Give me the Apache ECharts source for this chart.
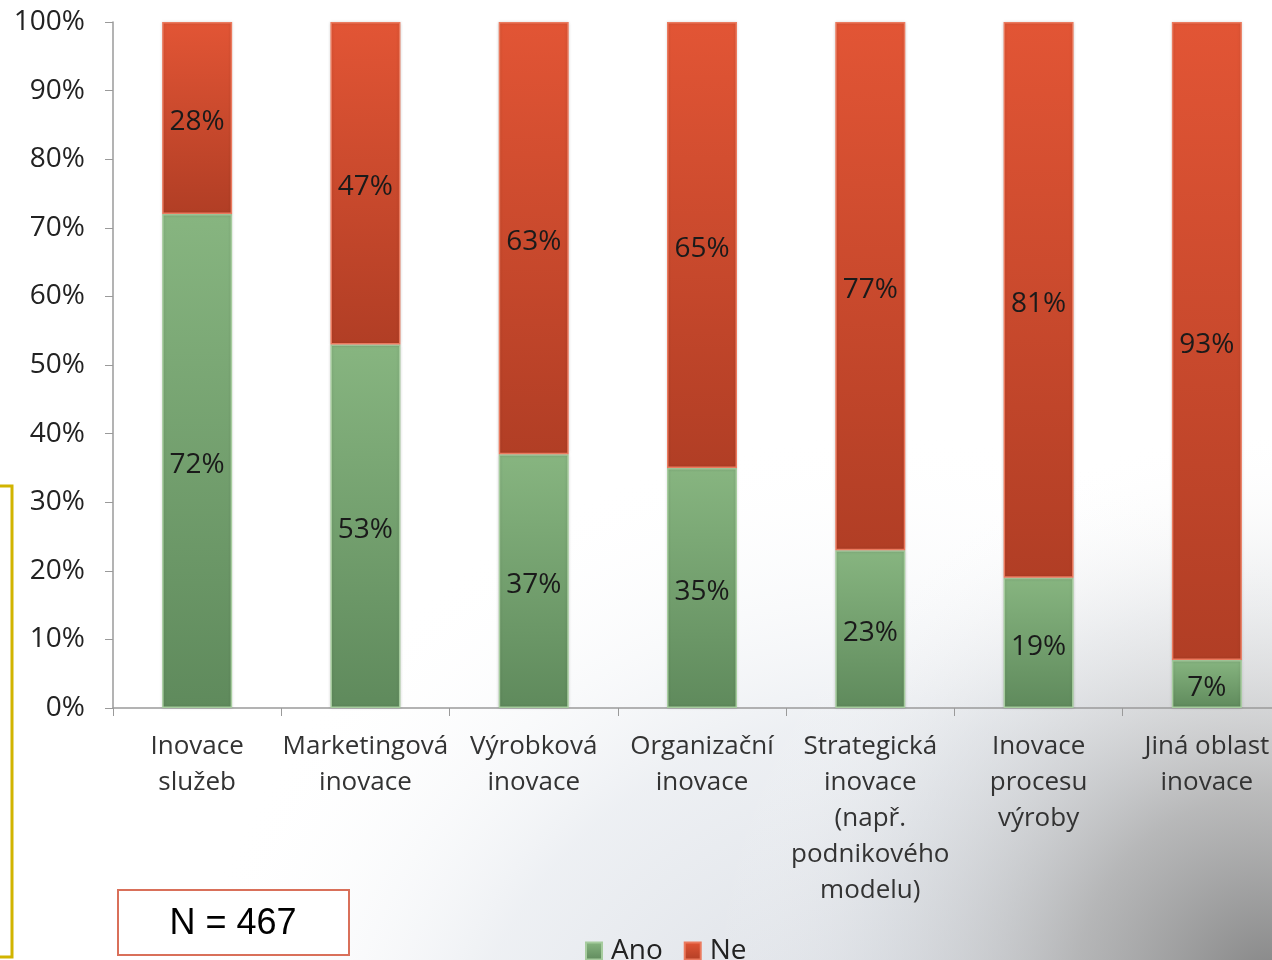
<!DOCTYPE html>
<html>
<head>
<meta charset="utf-8">
<script src="https://cdn.jsdelivr.net/npm/echarts@6/dist/echarts.min.js"></script>
<style>
  html, body { margin: 0; padding: 0; background: #fff; overflow: hidden; }
  #chart { width: 1300px; height: 960px; }
</style>
</head>
<body>
<div id="chart"></div>
<script>
const categories = [
  "Inovace\nslužeb",
  "Marketingová\ninovace",
  "Výrobková\ninovace",
  "Organizační\ninovace",
  "Strategická\ninovace\n(např.\npodnikového\nmodelu)",
  "Inovace\nprocesu\nvýroby",
  "Jiná oblast\ninovace"
];
const ano = [72, 53, 37, 35, 23, 19, 7];
const ne = [28, 47, 63, 65, 77, 81, 93];
const yTicks = [0, 10, 20, 30, 40, 50, 60, 70, 80, 90, 100];

const FONT = "'Open Sans', 'Liberation Sans', sans-serif";

let chart = echarts.init(document.getElementById("chart"));

function grad(top, bottom) {
  return new echarts.graphic.LinearGradient(0, 0, 0, 1, [
    { offset: 0, color: top },
    { offset: 1, color: bottom }
  ]);
}

let options = {
  backgroundColor: "#fff",
  animation: false,
  grid: {
    left: 113,
    top: 22,
    bottom: 252,
    right: 9
  },
  legend: {
    data: ["Ano", "Ne"],
    left: 580,
    top: 932,
    itemWidth: 16,
    itemHeight: 17,
    itemGap: 21,
    icon: "rect",
    textStyle: { fontSize: 28, color: "#222", fontFamily: FONT, padding: [0, 0, 0, 4] }
  },
  xAxis: {
    type: "category",
    data: categories,
    axisLine: { lineStyle: { color: "#9a9a9a", width: 1.5 } },
    axisTick: { show: true, length: 8, lineStyle: { color: "#9a9a9a" } },
    axisLabel: {
      interval: 0,
      margin: 21,
      fontSize: 26,
      lineHeight: 36,
      color: "#333",
      fontFamily: FONT
    }
  },
  yAxis: {
    type: "value",
    min: 0,
    max: 100,
    interval: 10,
    splitLine: { show: false },
    axisLine: { show: true, lineStyle: { color: "#9a9a9a", width: 1.5 } },
    axisTick: { show: true, length: 8, inside: false, lineStyle: { color: "#9a9a9a" } },
    axisLabel: {
      fontSize: 28,
      color: "#222",
      fontFamily: FONT,
      margin: 28,
      formatter: function (v) { return yTicks.indexOf(v) >= 0 ? v + "%" : ""; }
    }
  },
  graphic: [
    // soft backdrop, bluish grey towards the bottom
    {
      type: "rect",
      z: -20,
      shape: { x: 0, y: 0, width: 1300, height: 960 },
      style: {
        fill: new echarts.graphic.RadialGradient(880, 1150, 720, [
          { offset: 0, color: "rgba(200,205,214,0.8)" },
          { offset: 0.6, color: "rgba(220,225,232,0.5)" },
          { offset: 1, color: "rgba(255,255,255,0)" }
        ], true)
      }
    },
    {
      type: "rect",
      z: -10,
      shape: { x: 0, y: 0, width: 1300, height: 960 },
      style: {
        fill: new echarts.graphic.RadialGradient(1272, 990, 560, [
          { offset: 0, color: "rgba(125,125,125,0.95)" },
          { offset: 0.35, color: "rgba(160,160,160,0.7)" },
          { offset: 0.7, color: "rgba(205,208,212,0.35)" },
          { offset: 1, color: "rgba(255,255,255,0)" }
        ], true)
      }
    },
    {
      type: "polyline",
      shape: { points: [[0, 486], [12, 486], [12, 957], [0, 957]] },
      style: { stroke: "#d1b400", lineWidth: 3, fill: null }
    },
    {
      type: "rect",
      shape: { x: 118, y: 890, width: 231, height: 65 },
      style: { fill: "#fff", stroke: "#d9705a", lineWidth: 2 }
    },
    {
      type: "text",
      x: 233,
      y: 924,
      style: {
        text: "N = 467",
        fontSize: 36,
        fontFamily: "'Liberation Sans', Arial, sans-serif",
        fill: "#000",
        align: "center",
        verticalAlign: "middle"
      }
    }
  ],
  series: [
    {
      name: "Ano",
      type: "bar",
      stack: "total",
      data: ano,
      barWidth: 70,
      itemStyle: {
        color: grad("#87b580", "#5f8a5c"),
        borderColor: "#a6cc9e",
        borderWidth: 1.5,
        shadowColor: "rgba(0,0,0,0.15)",
        shadowBlur: 3
      },
      label: {
        show: true,
        position: "inside",
        offset: [0, 4],
        fontSize: 28,
        color: "#1a1a1a",
        fontFamily: FONT,
        formatter: "{c}%"
      }
    },
    {
      name: "Ne",
      type: "bar",
      stack: "total",
      data: ne,
      barWidth: 70,
      itemStyle: {
        color: grad("#e25535", "#b13e25"),
        borderColor: "#eb7a5e",
        borderWidth: 1.5,
        shadowColor: "rgba(0,0,0,0.15)",
        shadowBlur: 3
      },
      label: {
        show: true,
        position: "inside",
        offset: [0, 4],
        fontSize: 28,
        color: "#1a1a1a",
        fontFamily: FONT,
        formatter: "{c}%"
      }
    }
  ]
};

chart.setOption(options);
</script>
</body>
</html>
